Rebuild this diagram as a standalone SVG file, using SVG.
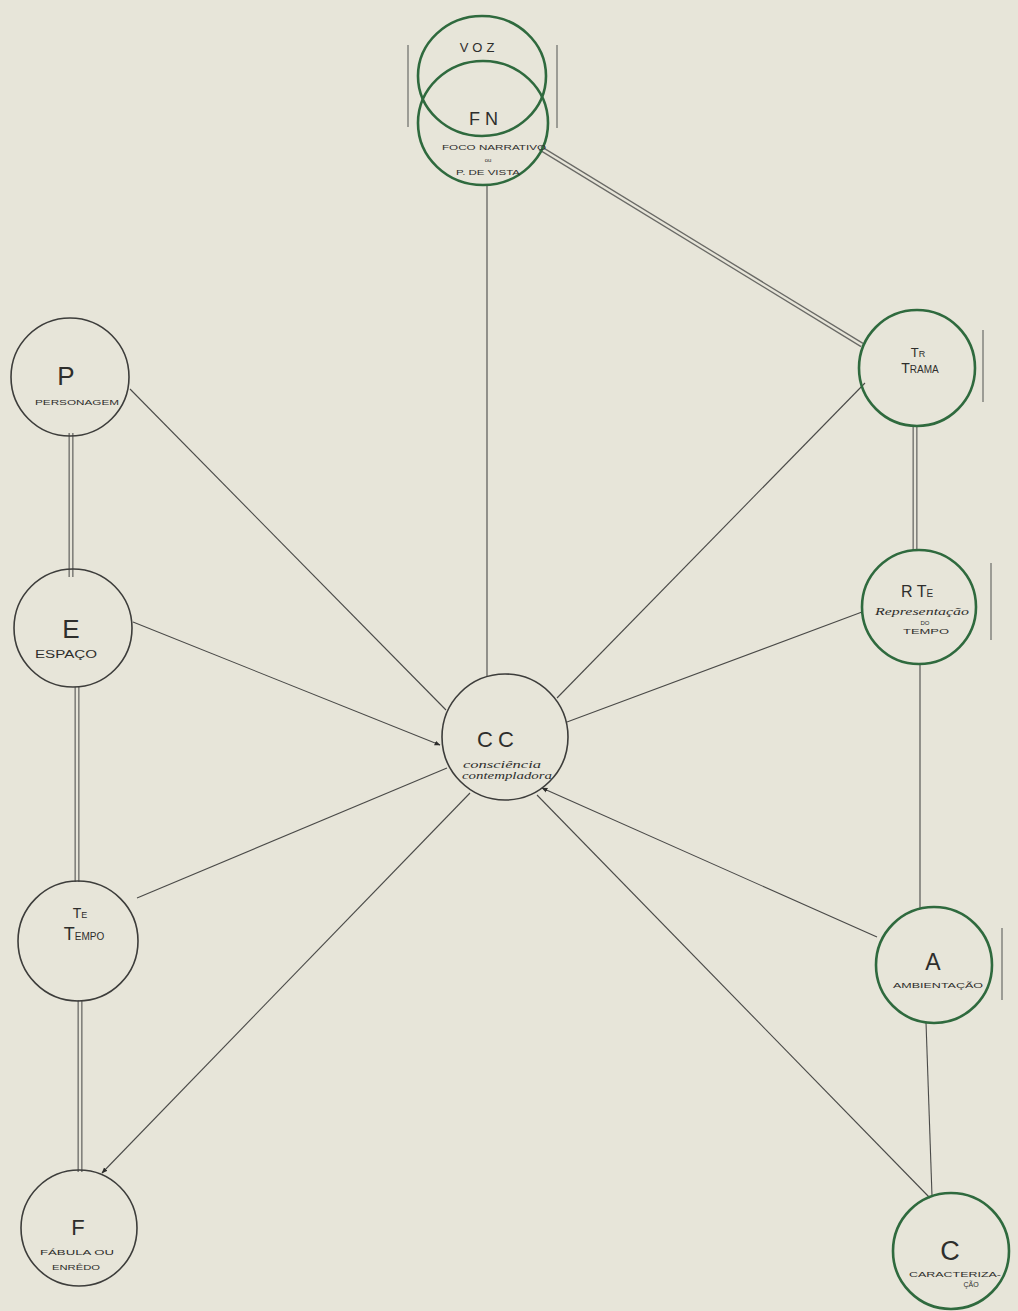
<svg xmlns="http://www.w3.org/2000/svg" width="1018" height="1311" viewBox="0 0 1018 1311">
<style>
.bg{fill:#e7e5d9}
.ink{fill:none;stroke:#3d3d3b;stroke-width:1.6}
.grn{fill:none;stroke:#2f6a3e;stroke-width:2.6}
.ln{stroke:#4a4a48;stroke-width:1.1;fill:none}
.dblo{stroke:#6a6a66;stroke-width:5;fill:none}
.dbli{stroke:#e7e5d9;stroke-width:2.4;fill:none}
.mark{stroke:#8a8a84;stroke-width:1.6}
text{font-family:"Liberation Sans","DejaVu Sans",sans-serif;fill:#2e2e2c;text-anchor:middle}
.big{font-size:25px}
.mid{font-size:16px}
.sm{font-size:10px}
.xs{font-size:8px}
.hand{font-family:"Liberation Serif",serif;font-style:italic}
</style>
<defs>
<marker id="ah" viewBox="0 0 10 10" refX="9" refY="5" markerWidth="6" markerHeight="6" orient="auto" markerUnits="userSpaceOnUse">
<path d="M0,1 L10,5 L0,9 z" fill="#2e2e2c"/>
</marker>
</defs>
<rect class="bg" x="0" y="0" width="1018" height="1311"/>

<g id="connectors">
<line class="dblo" x1="540" y1="148" x2="862" y2="345"/>
<line class="dbli" x1="540" y1="148" x2="862" y2="345"/>
<line class="dblo" x1="915" y1="426" x2="915" y2="551"/>
<line class="dbli" x1="915" y1="426" x2="915" y2="551"/>
<line class="dblo" x1="71" y1="433" x2="71" y2="577"/>
<line class="dbli" x1="71" y1="433" x2="71" y2="577"/>
<line class="dblo" x1="77" y1="687" x2="77" y2="882"/>
<line class="dbli" x1="77" y1="687" x2="77" y2="882"/>
<line class="dblo" x1="80" y1="1000" x2="80" y2="1172"/>
<line class="dbli" x1="80" y1="1000" x2="80" y2="1172"/>
<line class="ln" x1="487" y1="185" x2="487" y2="676"/>
<line class="ln" x1="920" y1="665" x2="920" y2="908"/>
<line class="ln" x1="926" y1="1022" x2="932" y2="1196"/>
<line class="ln" x1="130" y1="389" x2="446" y2="710"/>
<line class="ln" x1="133" y1="622" x2="440" y2="745" marker-end="url(#ah)"/>
<line class="ln" x1="137" y1="898" x2="447" y2="768"/>
<line class="ln" x1="470" y1="793" x2="102" y2="1173" marker-end="url(#ah)"/>
<line class="ln" x1="865" y1="383" x2="557" y2="698"/>
<line class="ln" x1="862" y1="612" x2="567" y2="722"/>
<line class="ln" x1="877" y1="937" x2="542" y2="788" marker-end="url(#ah)"/>
<line class="ln" x1="930" y1="1198" x2="537" y2="795"/>
<line class="mark" x1="408" y1="45" x2="408" y2="127"/>
<line class="mark" x1="557" y1="45" x2="557" y2="128"/>
<line class="mark" x1="983" y1="330" x2="983" y2="402"/>
<line class="mark" x1="991" y1="563" x2="991" y2="640"/>
<line class="mark" x1="1002" y1="928" x2="1002" y2="1000"/>
</g>

<g id="node-voz">
<ellipse class="grn" cx="482" cy="76" rx="64" ry="60"/>
<text x="479" y="52" style="font-size:13px" letter-spacing="4">VOZ</text>
</g>
<g id="node-fn">
<ellipse class="grn" cx="483" cy="123" rx="65" ry="62"/>
<text x="486" y="125" style="font-size:18px" letter-spacing="5">FN</text>
<text class="xs" x="494" y="150" textLength="104" lengthAdjust="spacingAndGlyphs">FOCO NARRATIVO</text>
<text x="488" y="162" style="font-size:6px">ou</text>
<text class="xs" x="488" y="175" textLength="64" lengthAdjust="spacingAndGlyphs">P. DE VISTA</text>
</g>

<g id="node-p">
<circle class="ink" cx="70" cy="377" r="59"/>
<text x="66" y="385" style="font-size:26px">P</text>
<text class="xs" x="77" y="405" textLength="84" lengthAdjust="spacingAndGlyphs">PERSONAGEM</text>
</g>
<g id="node-e">
<circle class="ink" cx="73" cy="628" r="59"/>
<text x="71" y="638" style="font-size:26px">E</text>
<text class="sm" x="66" y="658" textLength="62" lengthAdjust="spacingAndGlyphs">ESPAÇO</text>
</g>
<g id="node-te">
<circle class="ink" cx="78" cy="941" r="60"/>
<text x="80" y="918"><tspan style="font-size:14px">T</tspan><tspan style="font-size:9px">E</tspan></text>
<text x="84" y="940"><tspan style="font-size:18px">T</tspan><tspan style="font-size:10px">EMPO</tspan></text>
</g>
<g id="node-f">
<circle class="ink" cx="79" cy="1228" r="58"/>
<text x="78" y="1235" style="font-size:22px">F</text>
<text class="xs" x="77" y="1255" textLength="74" lengthAdjust="spacingAndGlyphs">FÁBULA OU</text>
<text class="xs" x="76" y="1270" textLength="48" lengthAdjust="spacingAndGlyphs">ENRÊDO</text>
</g>

<g id="node-cc">
<circle class="ink" cx="505" cy="737" r="63"/>
<text x="498" y="747" style="font-size:22px" letter-spacing="5">CC</text>
<text class="hand" x="502" y="768" style="font-size:11px" textLength="78" lengthAdjust="spacingAndGlyphs">consciência</text>
<text class="hand" x="507" y="779" style="font-size:11px" textLength="90" lengthAdjust="spacingAndGlyphs">contempladora</text>
</g>

<g id="node-tr">
<circle class="grn" cx="917" cy="368" r="58"/>
<text x="918" y="357"><tspan style="font-size:13px">T</tspan><tspan style="font-size:9px">R</tspan></text>
<text x="920" y="373"><tspan style="font-size:14px">T</tspan><tspan style="font-size:10px">RAMA</tspan></text>
</g>
<g id="node-rte">
<circle class="grn" cx="919" cy="607" r="57"/>
<text class="mid" x="917" y="597">R T<tspan style="font-size:10px">E</tspan></text>
<text class="hand" x="922" y="615" style="font-size:10px" textLength="94" lengthAdjust="spacingAndGlyphs">Representação</text>
<text x="925" y="625" style="font-size:6px">DO</text>
<text class="xs" x="926" y="634" textLength="46" lengthAdjust="spacingAndGlyphs">TEMPO</text>
</g>
<g id="node-a">
<circle class="grn" cx="934" cy="965" r="58"/>
<text x="933" y="970" style="font-size:23px">A</text>
<text class="xs" x="938" y="988" textLength="90" lengthAdjust="spacingAndGlyphs">AMBIENTAÇÃO</text>
</g>
<g id="node-c">
<circle class="grn" cx="951" cy="1251" r="58"/>
<text x="950" y="1260" style="font-size:27px">C</text>
<text class="xs" x="955" y="1277" textLength="92" lengthAdjust="spacingAndGlyphs">CARACTERIZA-</text>
<text x="971" y="1287" style="font-size:7px">ÇÃO</text>
</g>
</svg>
